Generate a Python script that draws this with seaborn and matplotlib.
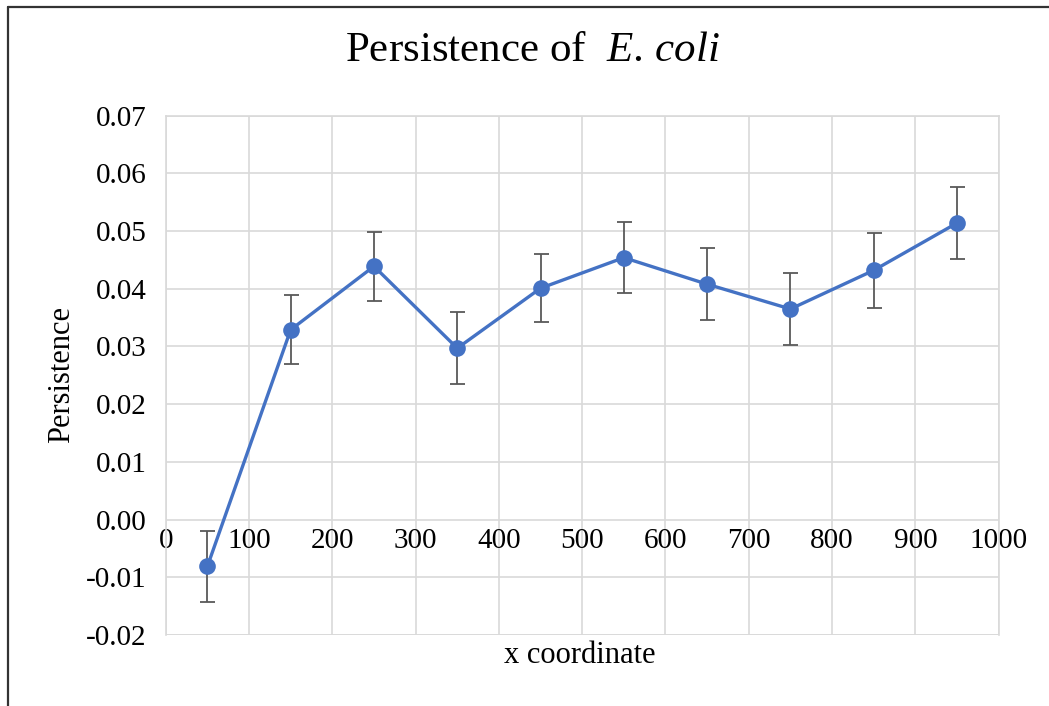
import numpy as np
import pandas as pd
import matplotlib
matplotlib.use("Agg")
import matplotlib.pyplot as plt
from matplotlib.lines import Line2D
from matplotlib.ticker import FuncFormatter, MultipleLocator
import seaborn as sns

# values
x_coord = [50, 150, 250, 350, 450, 550, 650, 750, 850, 950]
persistence = [-0.0081, 0.0329, 0.0439, 0.0297, 0.0401, 0.0454, 0.0408, 0.0365, 0.0432, 0.0514]
persistence_err = [0.0062, 0.0060, 0.0060, 0.0062, 0.0059, 0.0062, 0.0062, 0.0063, 0.0065, 0.0062]

df = pd.DataFrame({"x coordinate": x_coord, "Persistence": persistence, "err": persistence_err})

line_blue = "#4472C4"
grid_grey = "#D9D9D9"

sns.set_style("whitegrid", {"grid.color": grid_grey, "axes.edgecolor": grid_grey,
                            "text.color": "black", "xtick.color": "black", "ytick.color": "black"})
plt.rcParams["font.family"] = ["Liberation Serif", "DejaVu Serif"]
plt.rcParams["mathtext.fontset"] = "custom"
plt.rcParams["mathtext.rm"] = "Liberation Serif"
plt.rcParams["mathtext.it"] = "Liberation Serif:italic"
plt.rcParams["axes.unicode_minus"] = False

fig = plt.figure(figsize=(10.49, 7.06), dpi=100)
ax = fig.add_axes([0.158, 0.1006, 0.794, 0.7355])

# error bars first so the markers sit on top
ax.errorbar(df["x coordinate"], df["Persistence"], yerr=df["err"], fmt="none",
            ecolor="#595959", elinewidth=1.3, capsize=5.4, capthick=1.3, zorder=2)
sns.lineplot(data=df, x="x coordinate", y="Persistence", ax=ax, color=line_blue,
             linewidth=2.4, marker="o", markersize=12, markeredgewidth=0, zorder=3)

ax.set_xlim(0, 1000)
ax.set_ylim(-0.02, 0.07)
ax.xaxis.set_major_locator(MultipleLocator(100))
ax.yaxis.set_major_locator(MultipleLocator(0.01))
ax.yaxis.set_major_formatter(FuncFormatter(lambda v, p: f"{v:.2f}"))
ax.xaxis.set_major_formatter(FuncFormatter(lambda v, p: f"{int(round(v))}"))
ax.grid(True, color=grid_grey, linewidth=1.2)
for s in ax.spines.values():
    s.set_color(grid_grey)
    s.set_linewidth(1.2)

# x tick labels sit along the zero line, like the Excel original
ax.spines["bottom"].set_position(("data", 0))
ax.spines["bottom"].set_visible(False)
ax.axhline(-0.02, color=grid_grey, linewidth=1.2, zorder=1)
ax.tick_params(axis="both", length=0, labelsize=21, colors="black")
ax.tick_params(axis="x", pad=6)
ax.tick_params(axis="y", pad=14)

ax.set_xlabel("")
ax.set_ylabel("")
fig.text(0.553, 0.072, "x coordinate", ha="center", va="center", fontsize=22, color="black")
fig.text(0.059, 0.469, "Persistence", ha="center", va="center", rotation=90, fontsize=22, color="black")
fig.text(0.508, 0.928, r"Persistence of  $\mathit{E.}$$\,$$\mathit{coli}$", ha="center", va="center",
         fontsize=31, color="black")

# partial frame of the original screenshot
fig.add_artist(Line2D([8 / 1049, 1], [1 - 7 / 706, 1 - 7 / 706], transform=fig.transFigure, color="#333333", linewidth=1.6))
fig.add_artist(Line2D([8 / 1049, 8 / 1049], [0, 1 - 7 / 706], transform=fig.transFigure, color="#333333", linewidth=1.6))

fig.savefig("out.png", dpi=100)
